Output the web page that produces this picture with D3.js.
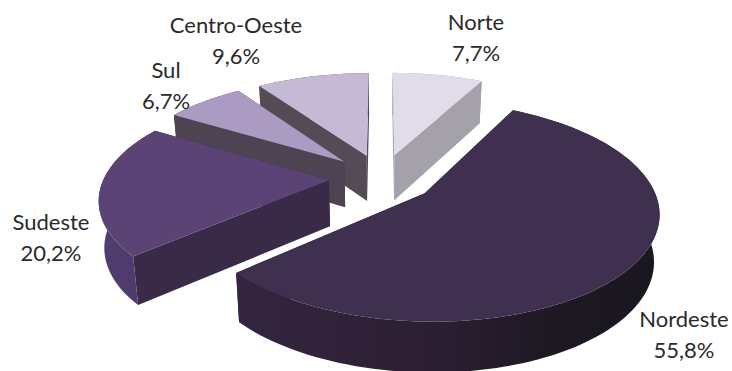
<!DOCTYPE html>
<html>
<head>
<meta charset="utf-8">
<script src="https://d3js.org/d3.v7.min.js"></script>
<style>
  html, body { margin: 0; padding: 0; background: #fff; overflow: hidden; }
  svg { display: block; }
  text { font-family: Lato, "Open Sans", sans-serif; font-size: 22px; fill: #2a2a2a; text-anchor: middle; }
</style>
</head>
<body>
<div id="chart"></div>
<script>
var regions = ['Norte', 'Nordeste', 'Sudeste', 'Sul', 'Centro-Oeste'];
var shares = [7.7, 55.8, 20.2, 6.7, 9.6];

var topColors = ['#e0dcea', '#40304f', '#5b4475', '#ab9bc2', '#c4bad6'];
var wallColors = ['#a5a1aa', '#2c2036', '#392a47', '#4d4352', '#544b57'];
var rimColors = ['#a5a1aa', 'url(#rimNordeste)', 'url(#rimSudeste)', '#4d4352', '#544b57'];

// label anchor for each region, first and second line share the x
var labelX = [476, 684, 51, 166, 236];
var labelY = [30, 327, 230, 78, 33];

var width = 732, height = 371;
var cx = 382, cy = 178, radius = 225;
var squash = 0.455, perspective = 0.16, explode = 0.236;
var depth = 46, shrink = 0.98;

var svg = d3.select('#chart').append('svg')
  .attr('width', width)
  .attr('height', height);

var defs = svg.append('defs');
addGradient('rimNordeste', 240, 660, [['#33253f', 0], ['#2c1f33', 0.45], ['#1d1822', 0.75], ['#1a1720', 1]]);
addGradient('rimSudeste', 100, 140, [['#523d70', 0], ['#4f3a6b', 1]]);

function addGradient(id, x1, x2, stops) {
  var g = defs.append('linearGradient')
    .attr('id', id)
    .attr('gradientUnits', 'userSpaceOnUse')
    .attr('x1', x1).attr('x2', x2).attr('y1', 0).attr('y2', 0);
  stops.forEach(function(s) {
    g.append('stop').attr('stop-color', s[0]).attr('offset', s[1]);
  });
}

// plane position (ux right, uy towards viewer) to screen, lower = bottom of the slab
function project(ux, uy, lower) {
  var s = 1 / (1 - perspective * uy);
  var x = radius * ux * s;
  var y = radius * squash * uy * s;
  if (lower) {
    x = x * shrink;
    y = y + depth * Math.sqrt(s);
  }
  return [cx + x, cy + y];
}

var pie = d3.pie().sort(null).value(function(d) { return d; });
var slices = pie(shares);
var line = d3.line();

function slicePoints(d) {
  var mid = (d.startAngle + d.endAngle) / 2;
  var ox = Math.sin(mid) * explode, oy = -Math.cos(mid) * explode;
  var n = Math.ceil((d.endAngle - d.startAngle) * 30);
  var rim = d3.range(n + 1).map(function(i) {
    var a = d.startAngle + (d.endAngle - d.startAngle) * i / n;
    return [ox + Math.sin(a), oy - Math.cos(a)];
  });
  return { apex: [ox, oy], rim: rim };
}

function onPlane(pts, lower) {
  return pts.map(function(p) { return project(p[0], p[1], lower); });
}

function wall(pts) {
  return line(onPlane(pts, false).concat(onPlane(pts, true).reverse())) + 'Z';
}

// far slices first so the nearer ones paint over them
var drawOrder = [4, 3, 0, 2, 1];

drawOrder.forEach(function(i) {
  var pts = slicePoints(slices[i]);
  var first = pts.rim[0], last = pts.rim[pts.rim.length - 1];
  var g = svg.append('g').attr('class', 'slice');

  g.append('path').attr('d', wall([pts.apex, first])).attr('fill', wallColors[i]);
  g.append('path').attr('d', wall([pts.apex, last])).attr('fill', wallColors[i]);
  g.append('path').attr('d', wall(pts.rim)).attr('fill', rimColors[i]);
  g.append('path')
    .attr('d', line(onPlane([pts.apex].concat(pts.rim), false)) + 'Z')
    .attr('fill', topColors[i]);
});

regions.forEach(function(name, i) {
  var t = svg.append('text').attr('x', labelX[i]).attr('y', labelY[i]);
  t.append('tspan').attr('x', labelX[i]).text(name);
  t.append('tspan').attr('x', labelX[i]).attr('dy', 30.5)
    .text(String(shares[i]).replace('.', ',') + '%');
});
</script>
</body>
</html>
